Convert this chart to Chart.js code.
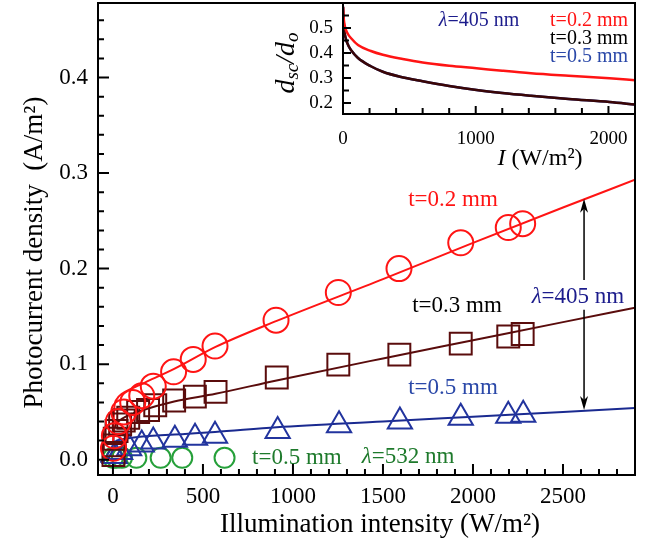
<!DOCTYPE html>
<html>
<head>
<meta charset="utf-8">
<script src="https://cdn.jsdelivr.net/npm/chart.js@4.4.0/dist/chart.umd.min.js"></script>
<style>
  html, body { margin: 0; padding: 0; background: #fff; }
  #wrap { position: relative; width: 654px; height: 553px; }
  #main { position: absolute; left: 0; top: 0; }
  #inset { position: absolute; left: 250px; top: 0; }
</style>
</head>
<body>
<div id="wrap">
  <canvas id="main" width="654" height="553"></canvas>
  <canvas id="inset" width="404" height="175"></canvas>
</div>
<script>
// measured points, lambda = 405 nm
const redX = [3, 8, 30, 60, 110, 160, 224, 337, 446, 567, 906, 1252, 1589, 1932, 2196, 2276];
const redY = [0.012, 0.025, 0.04, 0.05, 0.06, 0.067, 0.077, 0.092, 0.105, 0.119, 0.146, 0.175, 0.2, 0.227, 0.243, 0.247];
const brownX = [3, 5, 10, 20, 40, 60, 85, 140, 195, 235, 340, 455, 570, 910, 1252, 1591, 1932, 2196, 2276];
const brownY = [0.005, 0.015, 0.022, 0.03, 0.037, 0.041, 0.044, 0.05, 0.052, 0.057, 0.062, 0.066, 0.071, 0.086, 0.0995, 0.11, 0.1215, 0.129, 0.1316];
const blueX = [10, 40, 90, 160, 224, 344, 456, 567, 915, 1256, 1594, 1932, 2196, 2279];
const blueY = [0.004, 0.008, 0.012, 0.016, 0.019, 0.021, 0.023, 0.025, 0.03, 0.036, 0.04, 0.044, 0.046, 0.047];
// lambda = 532 nm
const greenX = [0, 20, 50, 130, 265, 385, 620];
const greenY = [0.002, 0.002, 0.002, 0.002, 0.002, 0.002, 0.002];

// fitted curves
const redFitX = [0, 3, 8, 20, 50, 100, 180, 340, 570, 906, 1500, 2000, 2500, 2900];
const redFitY = [0.003, 0.035, 0.055, 0.063, 0.069, 0.074, 0.081, 0.095, 0.118, 0.145, 0.189, 0.227, 0.264, 0.293];
const brownFitX = [0, 3, 10, 30, 80, 150, 340, 570, 909, 1500, 2000, 2500, 2900];
const brownFitY = [0.003, 0.022, 0.034, 0.04, 0.046, 0.051, 0.061, 0.069, 0.083, 0.106, 0.125, 0.144, 0.159];
const blueFitX = [-70, 0, 10, 40, 150, 400, 567, 909, 1500, 2000, 2500, 2900];
const blueFitY = [-0.003, 0.01, 0.018, 0.021, 0.024, 0.027, 0.029, 0.034, 0.04, 0.045, 0.05, 0.054];

// inset: d_sc/d_o vs I
const insetRedI = [0, 5, 15, 35, 63, 113, 210, 300, 450, 600, 800, 1006, 1200, 1416, 1700, 2008, 2200];
const insetRedD = [0.585, 0.54, 0.505, 0.478, 0.458, 0.432, 0.408, 0.393, 0.376, 0.362, 0.349, 0.339, 0.329, 0.319, 0.309, 0.299, 0.291];
const insetBlackI = [0, 8, 20, 40, 63, 113, 210, 300, 430, 600, 800, 1006, 1200, 1416, 1700, 2008, 2200];
const insetBlackD = [0.585, 0.5, 0.46, 0.43, 0.41, 0.38, 0.347, 0.325, 0.305, 0.287, 0.268, 0.252, 0.24, 0.229, 0.216, 0.204, 0.194];
const insetBlueI = [0, 8, 20, 40, 63, 113, 210, 300, 430, 600, 800, 1006, 1200, 1416, 1700, 2008, 2200];
const insetBlueD = [0.585, 0.5, 0.46, 0.43, 0.41, 0.38, 0.347, 0.325, 0.305, 0.287, 0.268, 0.252, 0.24, 0.229, 0.216, 0.204, 0.194];

const xTicks = [0, 500, 1000, 1500, 2000, 2500];
const yTicks = [0.0, 0.1, 0.2, 0.3, 0.4];
const insetXTicks = [0, 1000, 2000];
const insetYTicks = [0.2, 0.3, 0.4, 0.5];

const FONT = "'Liberation Serif', 'Times New Roman', serif";
const RED = '#ff1414';
const BROWN = '#5a0c0c';
const BLUE = '#22349e';
const GREEN = '#26a03a';
const NAVY = '#1c1c8c';

const pts = (xs, ys) => xs.map((x, i) => ({ x: x, y: ys[i] }));

function markers(xs, ys, color, style, r) {
  return {
    data: pts(xs, ys), showLine: false, pointStyle: style, pointRadius: r,
    pointBorderWidth: 2, borderColor: color, backgroundColor: 'rgba(0,0,0,0)'
  };
}
function curve(xs, ys, color, w) {
  return {
    data: pts(xs, ys), showLine: true, pointRadius: 0, borderWidth: w || 2,
    borderColor: color, cubicInterpolationMode: 'monotone'
  };
}

// fixed box for an axis, no extra label padding
function fixBox(size) {
  return s => {
    if (s.isHorizontal()) s.height = size; else s.width = size;
    s.paddingTop = 0; s.paddingBottom = 0; s.paddingLeft = 0; s.paddingRight = 0;
  };
}

// text made of parts with their own font / offset
function rich(ctx, parts, x, y, align) {
  let w = 0;
  parts.forEach(p => { ctx.font = p.f; w += ctx.measureText(p.t).width; });
  let cx = align === 'right' ? x - w : (align === 'left' ? x : x - w / 2);
  ctx.textBaseline = 'middle';
  ctx.textAlign = 'left';
  parts.forEach(p => {
    ctx.font = p.f;
    ctx.fillStyle = p.c;
    ctx.fillText(p.t, cx, y + (p.dy || 0));
    cx += ctx.measureText(p.t).width;
  });
}

function frameTicks(chart, o) {
  const { ctx, chartArea: a } = chart;
  const x = chart.scales.x, y = chart.scales.y;
  ctx.save();
  ctx.strokeStyle = '#000';
  ctx.lineWidth = o.lw;
  ctx.beginPath();
  for (let k = Math.ceil(x.min / o.xMinor); k * o.xMinor <= x.max; k++) {
    const px = x.getPixelForValue(k * o.xMinor);
    if (px < a.left + 2 || px > a.right - 2) continue;
    const len = (k % o.xEvery === 0) ? o.major : o.minor;
    ctx.moveTo(px, a.bottom);
    ctx.lineTo(px, a.bottom - len);
  }
  for (let k = Math.ceil(y.min / o.yMinor); k * o.yMinor <= y.max; k++) {
    const py = y.getPixelForValue(k * o.yMinor);
    if (py < a.top + 2 || py > a.bottom - 2) continue;
    const len = (k % o.yEvery === 0) ? o.major : o.minor;
    ctx.moveTo(a.left, py);
    ctx.lineTo(a.left + len, py);
  }
  ctx.stroke();
  ctx.strokeRect(a.left, a.top, a.right - a.left, a.bottom - a.top);
  ctx.restore();
}

function arrowHead(ctx, x, y, dir) {
  ctx.beginPath();
  ctx.moveTo(x, y);
  ctx.lineTo(x - 4, y - dir * 14);
  ctx.lineTo(x, y - dir * 10);
  ctx.lineTo(x + 4, y - dir * 14);
  ctx.closePath();
  ctx.fill();
}

const mainDecor = {
  id: 'mainDecor',
  afterDraw(chart) {
    frameTicks(chart, { lw: 2, xMinor: 100, xEvery: 5, yMinor: 0.02, yEvery: 5, major: 11, minor: 6 });
    const ctx = chart.ctx, x = chart.scales.x, y = chart.scales.y;
    const f = '23px ' + FONT, fi = 'italic 23px ' + FONT;
    ctx.save();
    rich(ctx, [{ t: 't=0.2 mm', f: f, c: RED }], x.getPixelForValue(1889), y.getPixelForValue(0.272), 'center');
    rich(ctx, [{ t: 't=0.3 mm', f: f, c: '#000' }], x.getPixelForValue(1911), y.getPixelForValue(0.161), 'center');
    rich(ctx, [{ t: 't=0.5 mm', f: f, c: '#2a48a8' }], x.getPixelForValue(1889), y.getPixelForValue(0.075), 'center');
    rich(ctx, [{ t: 'λ', f: fi, c: NAVY }, { t: '=405 nm', f: f, c: NAVY }], x.getPixelForValue(2583), y.getPixelForValue(0.170), 'center');
    rich(ctx, [{ t: 't=0.5 mm', f: f, c: '#1e7a2c' }], x.getPixelForValue(1022), y.getPixelForValue(0.002), 'center');
    rich(ctx, [{ t: 'λ', f: fi, c: '#1e7a2c' }, { t: '=532 nm', f: f, c: '#1e7a2c' }], x.getPixelForValue(1639), y.getPixelForValue(0.003), 'center');
    // double arrow between t=0.2 and t=0.5 curves
    const ax = x.getPixelForValue(2617);
    ctx.strokeStyle = '#000';
    ctx.fillStyle = '#000';
    ctx.lineWidth = 1.5;
    ctx.beginPath();
    ctx.moveTo(ax, y.getPixelForValue(0.273) + 8);
    ctx.lineTo(ax, y.getPixelForValue(0.188));
    ctx.moveTo(ax, y.getPixelForValue(0.157));
    ctx.lineTo(ax, y.getPixelForValue(0.052) - 8);
    ctx.stroke();
    arrowHead(ctx, ax, y.getPixelForValue(0.273), -1);
    arrowHead(ctx, ax, y.getPixelForValue(0.052), 1);
    ctx.restore();
  }
};

new Chart(document.getElementById('main'), {
  type: 'scatter',
  data: {
    datasets: [
      markers(redX, redY, RED, 'circle', 12.5),
      markers(brownX, brownY, BROWN, 'rect', 15.5),
      markers(blueX, blueY, BLUE, 'triangle', 14),
      markers(greenX, greenY, GREEN, 'circle', 10),
      curve(redFitX, redFitY, RED),
      curve(brownFitX, brownFitY, BROWN),
      curve(blueFitX, blueFitY, '#1a2a90')
    ]
  },
  options: {
    responsive: false,
    animation: false,
    events: [],
    layout: { autoPadding: false, padding: { top: 3, right: 19, left: 0, bottom: 0 } },
    plugins: { legend: { display: false }, tooltip: { enabled: false } },
    scales: {
      x: {
        type: 'linear', min: -83, max: 2900,
        grid: { display: false, drawTicks: false }, border: { display: false },
        afterBuildTicks: s => { s.ticks = xTicks.map(v => ({ value: v })); },
        afterFit: fixBox(78),
        ticks: { autoSkip: false, maxRotation: 0, padding: 8, color: '#000', font: { family: FONT, size: 23 }, callback: v => String(v) },
        // leading spaces nudge the centred title right, like the original
        title: { display: true, text: '    Illumination intensity (W/m²)', color: '#000', font: { family: FONT, size: 27 }, padding: { top: 0, bottom: 12 } }
      },
      y: {
        type: 'linear', min: -0.016, max: 0.478,
        grid: { display: false, drawTicks: false }, border: { display: false },
        afterBuildTicks: s => { s.ticks = yTicks.map(v => ({ value: v })); },
        afterFit: fixBox(98),
        ticks: { autoSkip: false, padding: 10, color: '#000', font: { family: FONT, size: 23 }, callback: v => v.toFixed(1) },
        title: { display: true, text: 'Photocurrent density  (A/m²)    ', color: '#000', font: { family: FONT, size: 27 }, padding: { top: 19, bottom: 0 } }
      }
    }
  },
  plugins: [mainDecor]
});

const insetDecor = {
  id: 'insetDecor',
  afterDraw(chart) {
    frameTicks(chart, { lw: 2, xMinor: 200, xEvery: 5, yMinor: 0.05, yEvery: 2, major: 8, minor: 6 });
    const ctx = chart.ctx;
    const f = '20px ' + FONT, fi = 'italic 20px ' + FONT;
    ctx.save();
    rich(ctx, [{ t: 'λ', f: fi, c: NAVY }, { t: '=405 nm', f: f, c: NAVY }], 229, 21, 'center');
    rich(ctx, [{ t: 't=0.2 mm', f: f, c: RED }], 378, 21, 'right');
    rich(ctx, [{ t: 't=0.3 mm', f: f, c: '#000' }], 378, 39, 'right');
    rich(ctx, [{ t: 't=0.5 mm', f: f, c: '#2a48a8' }], 378, 57, 'right');
    // x title
    rich(ctx, [{ t: 'I', f: 'italic 24px ' + FONT, c: '#000' }, { t: ' (W/m²)', f: '24px ' + FONT, c: '#000' }], 290, 159, 'center');
    // y title d_sc / d_o, rotated
    ctx.translate(37, 63);
    ctx.rotate(-Math.PI / 2);
    const big = 'italic 28px ' + FONT, small = 'italic 19px ' + FONT;
    rich(ctx, [
      { t: 'd', f: big, c: '#000' },
      { t: 'sc', f: small, c: '#000', dy: 6 },
      { t: '/d', f: big, c: '#000' },
      { t: 'o', f: small, c: '#000', dy: 6 }
    ], 0, 0, 'center');
    ctx.restore();
  }
};

new Chart(document.getElementById('inset'), {
  type: 'scatter',
  data: {
    datasets: [
      curve(insetRedI, insetRedD, RED, 2.5),
      curve(insetBlackI, insetBlackD, '#3a0606', 2.5),
      curve(insetBlueI, insetBlueD, '#2a3a9a', 2.5)
    ]
  },
  options: {
    responsive: false,
    animation: false,
    events: [],
    layout: { autoPadding: false, padding: { top: 3, right: 19, left: 0, bottom: 0 } },
    plugins: { legend: { display: false }, tooltip: { enabled: false } },
    scales: {
      x: {
        type: 'linear', min: 0, max: 2200,
        grid: { display: false, drawTicks: false }, border: { display: false },
        afterBuildTicks: s => { s.ticks = insetXTicks.map(v => ({ value: v })); },
        afterFit: fixBox(61),
        ticks: { autoSkip: false, maxRotation: 0, padding: 14, color: '#000', font: { family: FONT, size: 19 }, callback: v => String(v) }
      },
      y: {
        type: 'linear', min: 0.156, max: 0.6,
        grid: { display: false, drawTicks: false }, border: { display: false },
        afterBuildTicks: s => { s.ticks = insetYTicks.map(v => ({ value: v })); },
        afterFit: fixBox(93),
        ticks: { autoSkip: false, padding: 10, color: '#000', font: { family: FONT, size: 19 }, callback: v => v.toFixed(1) }
      }
    }
  },
  plugins: [insetDecor]
});
</script>
</body>
</html>
